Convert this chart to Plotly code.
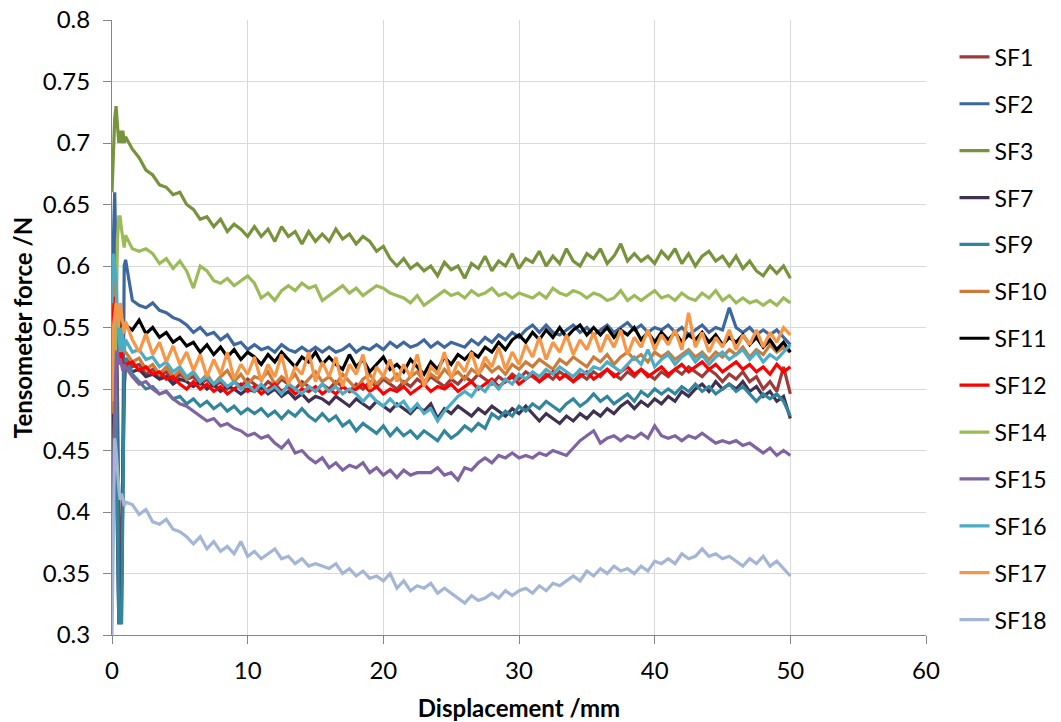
import plotly.graph_objects as go

# ---------------- data ----------------
X_EARLY = [0.0, 0.1, 0.2, 0.3, 0.4, 0.5, 0.6, 0.7, 0.8, 0.9]
X_MAIN = [round(1.0 + 0.5 * i, 1) for i in range(99)]  # 1.0 ... 50.0 mm
X = X_EARLY + X_MAIN

SERIES_NAMES = ["SF1", "SF2", "SF3", "SF7", "SF9", "SF10", "SF11",
                "SF12", "SF14", "SF15", "SF16", "SF17", "SF18"]

SF1 = [0.36, 0.48, 0.55, 0.56, 0.50, 0.40, 0.32, 0.36, 0.47, 0.52,
       0.525, 0.518, 0.520, 0.512, 0.516, 0.510, 0.514, 0.506, 0.512, 0.508,
       0.510, 0.504, 0.508, 0.502, 0.506, 0.500, 0.506, 0.502, 0.508, 0.504,
       0.500, 0.506, 0.502, 0.508, 0.504, 0.500, 0.506, 0.502, 0.498, 0.504,
       0.500, 0.506, 0.502, 0.498, 0.504, 0.500, 0.506, 0.502, 0.508, 0.504,
       0.500, 0.506, 0.502, 0.508, 0.504, 0.510, 0.506, 0.502, 0.508, 0.504,
       0.510, 0.506, 0.512, 0.508, 0.504, 0.510, 0.506, 0.512, 0.508, 0.514,
       0.510, 0.506, 0.512, 0.508, 0.514, 0.510, 0.506, 0.512, 0.508, 0.514,
       0.510, 0.516, 0.512, 0.508, 0.514, 0.510, 0.516, 0.512, 0.508, 0.514,
       0.510, 0.516, 0.512, 0.518, 0.514, 0.510, 0.516, 0.512, 0.506, 0.512,
       0.508, 0.514, 0.506, 0.510, 0.500, 0.506, 0.498, 0.518, 0.496]

SF2 = [0.50, 0.62, 0.66, 0.60, 0.45, 0.31, 0.31, 0.31, 0.45, 0.60,
       0.605, 0.572, 0.568, 0.566, 0.570, 0.564, 0.562, 0.558, 0.556, 0.552,
       0.546, 0.550, 0.544, 0.546, 0.540, 0.544, 0.536, 0.538, 0.532, 0.536,
       0.532, 0.534, 0.530, 0.536, 0.532, 0.530, 0.534, 0.530, 0.534, 0.530,
       0.534, 0.530, 0.532, 0.536, 0.530, 0.534, 0.532, 0.536, 0.532, 0.538,
       0.534, 0.538, 0.534, 0.536, 0.540, 0.534, 0.538, 0.534, 0.538, 0.536,
       0.534, 0.540, 0.536, 0.542, 0.538, 0.544, 0.540, 0.546, 0.542, 0.548,
       0.552, 0.546, 0.552, 0.546, 0.544, 0.548, 0.552, 0.546, 0.550, 0.544,
       0.548, 0.552, 0.546, 0.550, 0.554, 0.548, 0.552, 0.546, 0.550, 0.548,
       0.552, 0.546, 0.550, 0.544, 0.548, 0.552, 0.546, 0.550, 0.548, 0.566,
       0.550, 0.546, 0.550, 0.544, 0.548, 0.544, 0.548, 0.542, 0.536]

SF3 = [0.66, 0.70, 0.72, 0.73, 0.71, 0.70, 0.71, 0.70, 0.71, 0.70,
       0.705, 0.695, 0.688, 0.678, 0.674, 0.666, 0.664, 0.658, 0.660, 0.650,
       0.646, 0.638, 0.640, 0.632, 0.638, 0.628, 0.634, 0.630, 0.624, 0.632,
       0.624, 0.630, 0.620, 0.632, 0.624, 0.628, 0.618, 0.628, 0.620, 0.626,
       0.620, 0.630, 0.622, 0.626, 0.618, 0.624, 0.620, 0.612, 0.616, 0.606,
       0.600, 0.606, 0.598, 0.602, 0.596, 0.600, 0.592, 0.603, 0.597, 0.600,
       0.590, 0.602, 0.598, 0.608, 0.596, 0.604, 0.600, 0.610, 0.598, 0.606,
       0.603, 0.612, 0.600, 0.608, 0.602, 0.614, 0.604, 0.600, 0.610, 0.606,
       0.614, 0.602, 0.608, 0.618, 0.604, 0.610, 0.604, 0.608, 0.602, 0.612,
       0.606, 0.614, 0.602, 0.610, 0.600, 0.608, 0.612, 0.604, 0.608, 0.600,
       0.608, 0.598, 0.604, 0.596, 0.592, 0.600, 0.594, 0.600, 0.590]

SF7 = [0.40, 0.50, 0.52, 0.45, 0.35, 0.31, 0.31, 0.33, 0.42, 0.50,
       0.520, 0.514, 0.516, 0.510, 0.512, 0.508, 0.510, 0.504, 0.508, 0.506,
       0.502, 0.506, 0.500, 0.504, 0.498, 0.502, 0.500, 0.496, 0.500, 0.498,
       0.502, 0.496, 0.500, 0.494, 0.498, 0.492, 0.496, 0.490, 0.494, 0.492,
       0.488, 0.494, 0.490, 0.486, 0.492, 0.488, 0.484, 0.490, 0.486, 0.482,
       0.488, 0.484, 0.480, 0.486, 0.482, 0.488, 0.476, 0.484, 0.480, 0.486,
       0.482, 0.478, 0.484, 0.480, 0.486, 0.482, 0.478, 0.484, 0.480, 0.486,
       0.480, 0.474, 0.480, 0.476, 0.472, 0.478, 0.474, 0.480, 0.476, 0.482,
       0.478, 0.484, 0.480, 0.486, 0.490, 0.484, 0.490, 0.486, 0.492, 0.488,
       0.494, 0.490, 0.498, 0.494, 0.500, 0.504, 0.498, 0.506, 0.500, 0.504,
       0.500, 0.506, 0.498, 0.502, 0.494, 0.498, 0.490, 0.494, 0.476]

SF9 = [0.48, 0.55, 0.56, 0.50, 0.40, 0.31, 0.31, 0.31, 0.40, 0.52,
       0.525, 0.512, 0.506, 0.500, 0.502, 0.496, 0.498, 0.492, 0.494, 0.488,
       0.492, 0.486, 0.490, 0.484, 0.488, 0.482, 0.486, 0.480, 0.484, 0.480,
       0.484, 0.478, 0.482, 0.476, 0.482, 0.478, 0.484, 0.478, 0.474, 0.480,
       0.474, 0.478, 0.470, 0.474, 0.466, 0.472, 0.468, 0.464, 0.470, 0.462,
       0.468, 0.462, 0.466, 0.460, 0.466, 0.462, 0.458, 0.466, 0.460, 0.464,
       0.470, 0.466, 0.472, 0.468, 0.480, 0.476, 0.482, 0.478, 0.486, 0.482,
       0.488, 0.484, 0.490, 0.486, 0.482, 0.488, 0.492, 0.486, 0.490, 0.496,
       0.490, 0.494, 0.488, 0.492, 0.496, 0.490, 0.498, 0.494, 0.500, 0.496,
       0.500, 0.496, 0.502, 0.498, 0.504, 0.498, 0.502, 0.496, 0.500, 0.504,
       0.498, 0.502, 0.496, 0.490, 0.496, 0.492, 0.496, 0.490, 0.478]

SF10 = [0.48, 0.58, 0.59, 0.57, 0.55, 0.54, 0.55, 0.54, 0.53, 0.53,
        0.530, 0.522, 0.525, 0.516, 0.520, 0.512, 0.518, 0.510, 0.515, 0.508,
        0.514, 0.506, 0.512, 0.504, 0.510, 0.515, 0.506, 0.512, 0.504, 0.510,
        0.508, 0.514, 0.504, 0.510, 0.506, 0.512, 0.502, 0.508, 0.514, 0.506,
        0.510, 0.504, 0.512, 0.506, 0.500, 0.508, 0.512, 0.504, 0.510, 0.506,
        0.512, 0.504, 0.510, 0.514, 0.506, 0.512, 0.508, 0.516, 0.510, 0.514,
        0.508, 0.516, 0.512, 0.520, 0.514, 0.518, 0.512, 0.520, 0.516, 0.522,
        0.518, 0.524, 0.520, 0.516, 0.524, 0.520, 0.526, 0.522, 0.518, 0.526,
        0.522, 0.528, 0.520, 0.526, 0.530, 0.524, 0.528, 0.522, 0.530, 0.526,
        0.530, 0.524, 0.528, 0.532, 0.526, 0.530, 0.524, 0.530, 0.526, 0.532,
        0.528, 0.534, 0.526, 0.532, 0.528, 0.536, 0.530, 0.534, 0.530]

SF11 = [0.52, 0.55, 0.56, 0.56, 0.555, 0.55, 0.55, 0.56, 0.555, 0.55,
        0.552, 0.548, 0.556, 0.545, 0.550, 0.542, 0.546, 0.538, 0.542, 0.535,
        0.538, 0.530, 0.536, 0.528, 0.534, 0.526, 0.532, 0.524, 0.530, 0.526,
        0.520, 0.528, 0.522, 0.530, 0.524, 0.518, 0.526, 0.522, 0.530, 0.520,
        0.526, 0.520, 0.516, 0.528, 0.518, 0.524, 0.514, 0.520, 0.526, 0.516,
        0.520, 0.514, 0.524, 0.518, 0.512, 0.522, 0.516, 0.526, 0.520, 0.528,
        0.524, 0.530, 0.526, 0.534, 0.530, 0.538, 0.532, 0.540, 0.544, 0.538,
        0.546, 0.540, 0.548, 0.542, 0.550, 0.542, 0.548, 0.552, 0.544, 0.550,
        0.544, 0.550, 0.542, 0.548, 0.544, 0.550, 0.540, 0.546, 0.538, 0.546,
        0.540, 0.546, 0.538, 0.544, 0.540, 0.546, 0.538, 0.544, 0.536, 0.542,
        0.538, 0.544, 0.536, 0.542, 0.534, 0.540, 0.532, 0.538, 0.530]

SF12 = [0.50, 0.56, 0.575, 0.57, 0.55, 0.53, 0.52, 0.53, 0.52, 0.52,
        0.520, 0.522, 0.515, 0.518, 0.512, 0.514, 0.508, 0.510, 0.504, 0.500,
        0.506, 0.500, 0.504, 0.498, 0.502, 0.496, 0.500, 0.504, 0.498, 0.502,
        0.496, 0.500, 0.504, 0.498, 0.502, 0.496, 0.500, 0.498, 0.502, 0.496,
        0.500, 0.496, 0.502, 0.498, 0.500, 0.504, 0.498, 0.502, 0.496, 0.500,
        0.498, 0.502, 0.496, 0.500, 0.504, 0.498, 0.502, 0.500, 0.504, 0.498,
        0.502, 0.506, 0.500, 0.504, 0.508, 0.502, 0.506, 0.510, 0.504, 0.508,
        0.512, 0.506, 0.510, 0.514, 0.508, 0.512, 0.506, 0.510, 0.514, 0.508,
        0.512, 0.516, 0.510, 0.514, 0.518, 0.512, 0.516, 0.510, 0.514, 0.518,
        0.512, 0.516, 0.520, 0.514, 0.518, 0.522, 0.516, 0.520, 0.514, 0.518,
        0.522, 0.516, 0.520, 0.514, 0.518, 0.512, 0.520, 0.514, 0.518]

SF14 = [0.43, 0.42, 0.48, 0.56, 0.62, 0.64, 0.64, 0.63, 0.62, 0.615,
        0.625, 0.614, 0.612, 0.614, 0.610, 0.602, 0.606, 0.598, 0.604, 0.596,
        0.582, 0.600, 0.596, 0.588, 0.586, 0.590, 0.584, 0.588, 0.592, 0.586,
        0.574, 0.578, 0.572, 0.580, 0.584, 0.580, 0.586, 0.582, 0.584, 0.572,
        0.576, 0.580, 0.584, 0.578, 0.582, 0.576, 0.580, 0.584, 0.582, 0.578,
        0.576, 0.574, 0.570, 0.576, 0.568, 0.572, 0.576, 0.580, 0.576, 0.578,
        0.574, 0.580, 0.576, 0.578, 0.582, 0.576, 0.578, 0.574, 0.578, 0.576,
        0.574, 0.578, 0.574, 0.582, 0.578, 0.576, 0.580, 0.578, 0.574, 0.578,
        0.576, 0.572, 0.574, 0.580, 0.572, 0.576, 0.572, 0.576, 0.580, 0.574,
        0.576, 0.572, 0.578, 0.574, 0.572, 0.578, 0.574, 0.580, 0.572, 0.576,
        0.570, 0.574, 0.570, 0.572, 0.568, 0.572, 0.568, 0.574, 0.570]

SF15 = [0.38, 0.44, 0.50, 0.53, 0.53, 0.52, 0.525, 0.52, 0.515, 0.52,
        0.518, 0.510, 0.504, 0.506, 0.500, 0.496, 0.498, 0.492, 0.488, 0.486,
        0.482, 0.478, 0.474, 0.476, 0.470, 0.472, 0.468, 0.466, 0.462, 0.464,
        0.460, 0.462, 0.456, 0.452, 0.458, 0.448, 0.450, 0.444, 0.440, 0.444,
        0.436, 0.440, 0.434, 0.438, 0.436, 0.440, 0.432, 0.436, 0.430, 0.434,
        0.428, 0.434, 0.430, 0.432, 0.432, 0.432, 0.436, 0.430, 0.432, 0.426,
        0.436, 0.434, 0.440, 0.444, 0.440, 0.446, 0.444, 0.448, 0.444, 0.446,
        0.444, 0.448, 0.446, 0.450, 0.448, 0.446, 0.452, 0.458, 0.462, 0.466,
        0.456, 0.460, 0.462, 0.458, 0.462, 0.460, 0.464, 0.460, 0.470, 0.462,
        0.460, 0.462, 0.458, 0.462, 0.460, 0.464, 0.460, 0.456, 0.458, 0.456,
        0.458, 0.454, 0.456, 0.452, 0.448, 0.452, 0.446, 0.450, 0.446]

SF16 = [0.57, 0.61, 0.60, 0.59, 0.56, 0.54, 0.53, 0.55, 0.54, 0.53,
        0.540, 0.530, 0.532, 0.524, 0.526, 0.518, 0.522, 0.514, 0.518, 0.510,
        0.514, 0.506, 0.510, 0.504, 0.508, 0.502, 0.506, 0.500, 0.504, 0.498,
        0.504, 0.498, 0.502, 0.496, 0.504, 0.500, 0.496, 0.502, 0.498, 0.504,
        0.498, 0.502, 0.496, 0.500, 0.496, 0.490, 0.496, 0.490, 0.486, 0.492,
        0.486, 0.490, 0.482, 0.488, 0.480, 0.484, 0.474, 0.482, 0.488, 0.494,
        0.498, 0.494, 0.502, 0.498, 0.506, 0.500, 0.508, 0.504, 0.512, 0.508,
        0.514, 0.510, 0.516, 0.512, 0.518, 0.514, 0.510, 0.516, 0.512, 0.518,
        0.516, 0.522, 0.518, 0.514, 0.520, 0.526, 0.520, 0.532, 0.518, 0.524,
        0.528, 0.520, 0.526, 0.530, 0.522, 0.528, 0.520, 0.526, 0.530, 0.524,
        0.528, 0.532, 0.524, 0.530, 0.522, 0.528, 0.524, 0.530, 0.536]

SF17 = [0.49, 0.55, 0.56, 0.57, 0.56, 0.55, 0.57, 0.56, 0.55, 0.545,
        0.555, 0.540, 0.530, 0.545, 0.528, 0.538, 0.522, 0.535, 0.520, 0.530,
        0.515, 0.528, 0.510, 0.524, 0.512, 0.530, 0.508, 0.520, 0.512, 0.526,
        0.506, 0.520, 0.510, 0.528, 0.504, 0.518, 0.512, 0.530, 0.506, 0.522,
        0.510, 0.526, 0.502, 0.520, 0.512, 0.528, 0.500, 0.518, 0.510, 0.524,
        0.506, 0.520, 0.510, 0.528, 0.502, 0.518, 0.512, 0.530, 0.508, 0.522,
        0.514, 0.530, 0.512, 0.526, 0.518, 0.534, 0.516, 0.530, 0.520, 0.536,
        0.526, 0.542, 0.524, 0.538, 0.530, 0.544, 0.528, 0.540, 0.532, 0.546,
        0.530, 0.544, 0.534, 0.548, 0.528, 0.542, 0.534, 0.548, 0.532, 0.544,
        0.536, 0.548, 0.532, 0.562, 0.534, 0.546, 0.530, 0.542, 0.534, 0.548,
        0.532, 0.544, 0.536, 0.548, 0.534, 0.546, 0.538, 0.550, 0.544]

SF18 = [0.30, 0.40, 0.46, 0.45, 0.43, 0.42, 0.41, 0.415, 0.41, 0.405,
        0.408, 0.406, 0.398, 0.402, 0.392, 0.390, 0.394, 0.386, 0.384, 0.380,
        0.374, 0.380, 0.370, 0.376, 0.368, 0.372, 0.366, 0.376, 0.364, 0.368,
        0.362, 0.366, 0.370, 0.362, 0.364, 0.358, 0.362, 0.356, 0.358, 0.356,
        0.354, 0.358, 0.350, 0.354, 0.348, 0.352, 0.346, 0.348, 0.344, 0.350,
        0.338, 0.344, 0.336, 0.340, 0.338, 0.342, 0.334, 0.338, 0.334, 0.330,
        0.326, 0.332, 0.328, 0.330, 0.334, 0.330, 0.336, 0.332, 0.336, 0.338,
        0.334, 0.340, 0.336, 0.342, 0.340, 0.344, 0.348, 0.344, 0.352, 0.348,
        0.354, 0.350, 0.356, 0.352, 0.354, 0.350, 0.356, 0.352, 0.360, 0.358,
        0.362, 0.358, 0.366, 0.362, 0.364, 0.370, 0.364, 0.366, 0.362, 0.364,
        0.360, 0.356, 0.362, 0.358, 0.364, 0.356, 0.360, 0.354, 0.348]

SERIES_VALUES = [SF1, SF2, SF3, SF7, SF9, SF10, SF11,
                 SF12, SF14, SF15, SF16, SF17, SF18]

X_TICKS = [0, 10, 20, 30, 40, 50, 60]
Y_TICKS = [0.3, 0.35, 0.4, 0.45, 0.5, 0.55, 0.6, 0.65, 0.7, 0.75, 0.8]
Y_TICK_LABELS = ["0.3", "0.35", "0.4", "0.45", "0.5", "0.55", "0.6",
                 "0.65", "0.7", "0.75", "0.8"]

# ---------------- styling ----------------
COLORS = ["#9E3B38", "#3D679E", "#77933C", "#403152", "#31859C", "#CD7B38",
          "#000000", "#FF0000", "#9BBB59", "#8064A2", "#4BACC6", "#F79646",
          "#A4B6D6"]
FONT = "Lato, 'Open Sans', sans-serif"

fig = go.Figure()
for name, vals, col in zip(SERIES_NAMES, SERIES_VALUES, COLORS):
    assert len(vals) == len(X), (name, len(vals))
    fig.add_trace(go.Scatter(
        x=X, y=vals, mode="lines", name=name, legendgroup=name,
        line=dict(color=col, width=3.2),
    ))

fig.update_layout(
    width=1061, height=722,
    margin=dict(l=112, r=135, t=20, b=87, autoexpand=False),
    paper_bgcolor="white", plot_bgcolor="white",
    font=dict(family=FONT, size=24, color="#000000"),
    showlegend=True,
    legend=dict(
        x=1.035, xanchor="left", y=0.975, yanchor="top",
        font=dict(family=FONT, size=23, color="#000000"),
        tracegroupgap=14, itemwidth=30, bgcolor="rgba(0,0,0,0)",
        maxheight=720,
    ),
)
fig.update_xaxes(
    range=[0, 60], tickvals=X_TICKS, ticks="outside", ticklen=8,
    tickcolor="#868686", showline=True, linecolor="#868686", linewidth=1,
    showgrid=True, gridcolor="#D9D9D9", gridwidth=1, zeroline=False,
    ticklabelstandoff=6, tickfont=dict(family=FONT, size=24),
    title=dict(text="<b>Displacement /mm</b>", standoff=18,
               font=dict(family=FONT, size=24)),
)
fig.update_yaxes(
    range=[0.3, 0.8], tickvals=Y_TICKS, ticktext=Y_TICK_LABELS,
    ticks="outside", ticklen=8, tickcolor="#868686", showline=True,
    linecolor="#868686", linewidth=1, showgrid=True, gridcolor="#D9D9D9",
    gridwidth=1, zeroline=False, ticklabelstandoff=8,
    tickfont=dict(family=FONT, size=24),
    title=dict(text="<b>Tensometer force /N</b>", standoff=3,
               font=dict(family=FONT, size=24)),
)

fig.write_html("out.html")
